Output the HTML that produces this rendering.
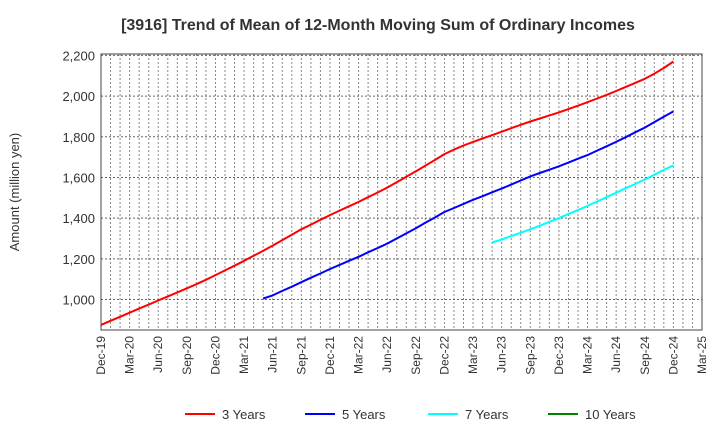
<!DOCTYPE html>
<html><head><meta charset="utf-8"><style>
body{margin:0;background:#fff;font-family:"Liberation Sans",sans-serif}
svg text{font-family:"Liberation Sans",sans-serif}
</style></head><body>
<svg width="720" height="440" id="c">
<text x="378" y="30" text-anchor="middle" font-size="16" font-weight="bold" fill="#333">[3916]  Trend of Mean of 12-Month Moving Sum of Ordinary Incomes</text>
<text x="19" y="192" text-anchor="middle" font-size="13" fill="#333" transform="rotate(-90 19 192)">Amount (million yen)</text>
<g id="grid"></g>
<g id="series"></g>
<rect x="101" y="54" width="601" height="276" fill="none" stroke="#444" stroke-width="1"/>
<g id="ylab"></g>
<g id="xlab"></g>
<g id="legend"></g>
</svg>
<script>
const xLabels=["Dec-19","Mar-20","Jun-20","Sep-20","Dec-20","Mar-21","Jun-21","Sep-21","Dec-21","Mar-22","Jun-22","Sep-22","Dec-22","Mar-23","Jun-23","Sep-23","Dec-23","Mar-24","Jun-24","Sep-24","Dec-24","Mar-25"];
const yTicks=[1000,1200,1400,1600,1800,2000,2200];
const seriesNames=["3 Years","5 Years","7 Years","10 Years"];
const seriesColors=["#ff0000","#0000ff","#00ffff","#008000"];
const red=[875,895,915,935,955,975,995,1015,1035,1055,1075,1097,1120,1143,1166,1190,1215,1240,1265,1292,1318,1345,1368,1392,1415,1437,1458,1480,1503,1526,1550,1576,1603,1630,1658,1686,1715,1737,1757,1775,1792,1808,1825,1842,1859,1875,1890,1905,1920,1936,1953,1970,1988,2006,2025,2045,2065,2085,2110,2138,2170];
const blueStart=17;
const blue=[1005,1020,1042,1063,1085,1107,1128,1150,1170,1190,1210,1232,1253,1275,1300,1325,1350,1377,1403,1430,1450,1470,1490,1508,1527,1545,1565,1585,1605,1622,1638,1655,1673,1692,1710,1732,1753,1775,1798,1822,1845,1872,1898,1925];
const cyanStart=41;
const cyan=[1280,1295,1312,1328,1345,1363,1382,1400,1420,1440,1460,1482,1503,1525,1547,1568,1590,1613,1637,1660];
const NS="http://www.w3.org/2000/svg";
const L=101,R=702,T=54,B=330,months=63,yMin=850,yMax=2207;
const X=i=>L+(R-L)*i/months;
const Y=v=>B-(B-T)*(v-yMin)/(yMax-yMin);
function mk(tag,attrs,parent){const e=document.createElementNS(NS,tag);for(const k in attrs)e.setAttribute(k,attrs[k]);parent.appendChild(e);return e;}
const grid=document.getElementById('grid');
for(let m=1;m<months;m++){const l=mk('line',{x1:X(m),x2:X(m),y1:T,y2:B,stroke:'#888','stroke-dasharray':'2,2','stroke-width':1},grid);

}
const yl=document.getElementById('ylab');
yTicks.forEach(v=>{const l=mk('line',{x1:L,x2:R,y1:Y(v),y2:Y(v),stroke:'#666','stroke-dasharray':'2,2','stroke-width':1},grid);


const t=mk('text',{x:L-6,y:Y(v)+5,'text-anchor':'end','font-size':13,fill:'#333'},yl);t.textContent=v.toLocaleString('en-US');

});
const xl=document.getElementById('xlab');
xLabels.forEach((s,i)=>{const x=X(i*3)+4;const t=mk('text',{x:x,y:B+6,'text-anchor':'end','font-size':12,fill:'#333',transform:`rotate(-90 ${x} ${B+6})`},xl);t.textContent=s;

});
const sg=document.getElementById('series');
function line(data,start,color,name){const pts=data.map((v,i)=>X(start+i).toFixed(1)+','+Y(v).toFixed(1)).join(' ');
const p=mk('polyline',{points:pts,fill:'none',stroke:color,'stroke-width':2,'stroke-linejoin':'round'},sg);

}
line(red,0,seriesColors[0],'line-3-years');
line(blue,blueStart,seriesColors[1],'line-5-years');
line(cyan,cyanStart,seriesColors[2],'line-7-years');
const lg=document.getElementById('legend');
const lx=[185,305,428,548];
seriesNames.forEach((n,i)=>{const g=mk('g',{},lg);


mk('line',{x1:lx[i],x2:lx[i]+30,y1:414,y2:414,stroke:seriesColors[i],'stroke-width':2},g);
const t=mk('text',{x:lx[i]+37,y:419,'font-size':13,fill:'#333'},g);t.textContent=n;});
</script>
</body></html>
